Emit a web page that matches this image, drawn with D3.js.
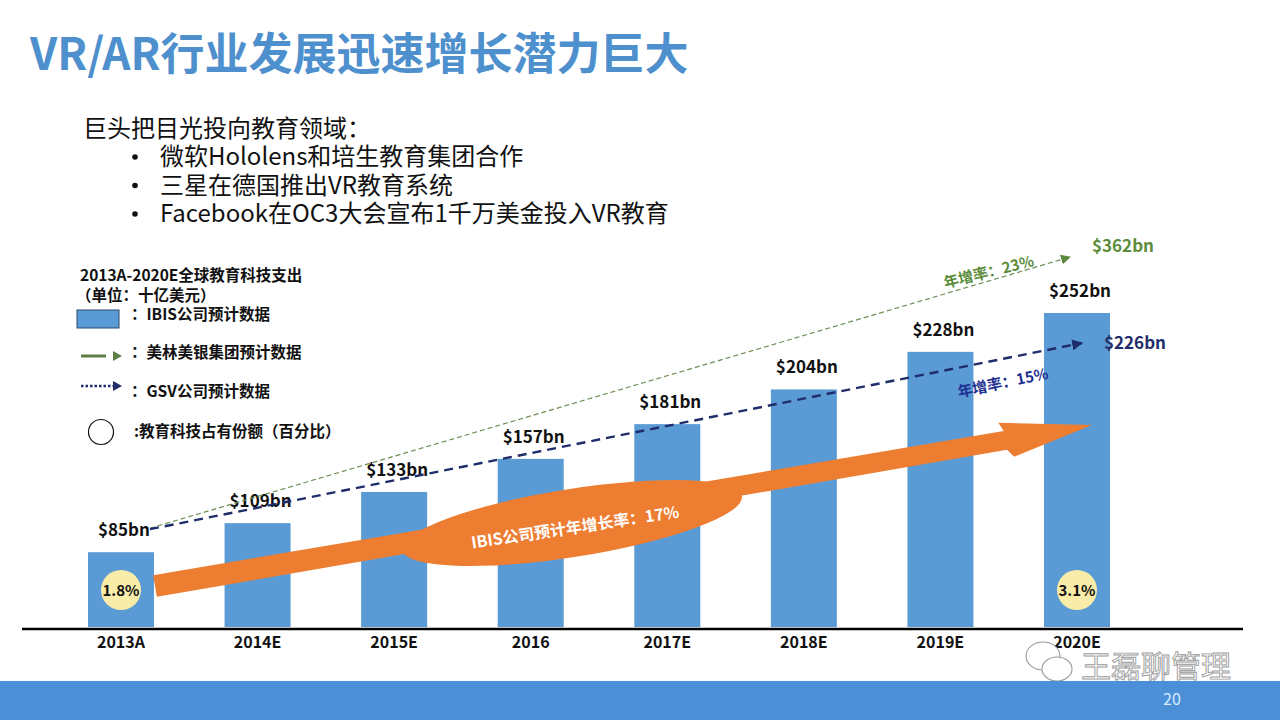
<!DOCTYPE html>
<html lang="zh-CN">
<head>
<meta charset="UTF-8">
<script src="https://cdn.jsdelivr.net/npm/d3@7/dist/d3.min.js"></script>
<title>VR/AR</title>
<style>
  body { margin: 0; background: #fff; }
  svg { display: block; font-family: "Noto Sans CJK SC", "Noto Sans", sans-serif; }
</style>
</head>
<body>
<script>
// data
var categories = ["2013A", "2014E", "2015E", "2016", "2017E", "2018E", "2019E", "2020E"];
var ibisValues = [85, 109, 133, 157, 181, 204, 228, 252];
var valueLabels = ["$85bn", "$109bn", "$133bn", "$157bn", "$181bn", "$204bn", "$228bn", "$252bn"];
var shareCats = ["2013A", "2020E"];
var shareLabels = ["1.8%", "3.1%"];
var bullets = ["微软Hololens和培生教育集团合作", "三星在德国推出VR教育系统", "Facebook在OC3大会宣布1千万美金投入VR教育"];

var width = 1280, height = 720;
var svg = d3.select("body").append("svg").attr("width", width).attr("height", height);

var baseY = 627, barW = 66;
var x = d3.scalePoint().domain(categories).range([121, 1077]);
// bar heights in the slide grow faster than linear
var y = d3.scalePow().exponent(1.32).domain([0, 252]).range([baseY, 313]);

// title
svg.append("text").attr("x", 30).attr("y", 70)
    .attr("font-size", 44).attr("font-weight", "bold").attr("fill", "#4e8fcd")
    .text("VR/AR行业发展迅速增长潜力巨大");

svg.append("text").attr("x", 83).attr("y", 137)
    .attr("font-size", 24).attr("fill", "#111").text("巨头把目光投向教育领域：");
bullets.forEach(function(b, i){
    var yy = 165 + i * 28.5;
    svg.append("circle").attr("cx", 135).attr("cy", yy - 8).attr("r", 2.8).attr("fill", "#111");
    svg.append("text").attr("x", 160).attr("y", yy)
        .attr("font-size", 24).attr("fill", "#111").text(b);
});

// bars
svg.selectAll("rect.bar").data(ibisValues).enter().append("rect")
    .attr("class", "bar")
    .attr("x", function(d, i){ return x(categories[i]) - barW / 2; })
    .attr("y", function(d){ return y(d); })
    .attr("width", barW)
    .attr("height", function(d){ return baseY - y(d); })
    .attr("fill", "#5b9bd5");

// axis line
svg.append("line").attr("x1", 22).attr("x2", 1243).attr("y1", 629).attr("y2", 629)
    .attr("stroke", "#000").attr("stroke-width", 2.5);

svg.selectAll("text.cat").data(categories).enter().append("text")
    .attr("class", "cat")
    .attr("x", function(d){ return x(d); })
    .attr("y", 648)
    .attr("text-anchor", "middle")
    .attr("font-size", 16).attr("font-weight", "bold").attr("fill", "#111")
    .text(function(d){ return d; });

svg.selectAll("text.val").data(ibisValues).enter().append("text")
    .attr("class", "val")
    .attr("x", function(d, i){ return x(categories[i]) + 3; })
    .attr("y", function(d){ return y(d) - 16; })
    .attr("text-anchor", "middle")
    .attr("font-size", 17).attr("font-weight", "bold").attr("fill", "#111")
    .text(function(d, i){ return valueLabels[i]; });

// arrow markers
var defs = svg.append("defs");
function marker(id, color, size){
    defs.append("marker").attr("id", id)
        .attr("viewBox", "0 0 10 10").attr("refX", 9).attr("refY", 5)
        .attr("markerWidth", size).attr("markerHeight", size)
        .attr("markerUnits", "userSpaceOnUse")
        .attr("orient", "auto")
        .append("path").attr("d", "M0,0L10,5L0,10Z").attr("fill", color);
}
marker("mGreen", "#5d8a3c", 10);
marker("mNavy", "#1f2d6a", 11);

var startX = x("2013A") + 29, startY = y(85) - 24;
var lastX = x("2020E");

// green (Merrill Lynch) forecast line
svg.append("line").attr("x1", startX).attr("y1", startY)
    .attr("x2", lastX - 7).attr("y2", y(252) - 56)
    .attr("stroke", "#6d8f55").attr("stroke-width", 1.2).attr("stroke-dasharray", "5,3")
    .attr("marker-end", "url(#mGreen)");
svg.append("text").attr("transform", "translate(990,277) rotate(-14)")
    .attr("text-anchor", "middle").attr("font-size", 15).attr("font-weight", "bold")
    .attr("fill", "#5b8c3a").text("年增率：23%");
svg.append("text").attr("x", 1123).attr("y", 252).attr("text-anchor", "middle")
    .attr("font-size", 17).attr("font-weight", "bold").attr("fill", "#5b8c3a").text("$362bn");

// navy (GSV) forecast line
svg.append("line").attr("x1", startX).attr("y1", startY + 1)
    .attr("x2", lastX + 5).attr("y2", y(226) - 12)
    .attr("stroke", "#1f2d6a").attr("stroke-width", 2.4).attr("stroke-dasharray", "9,6")
    .attr("marker-end", "url(#mNavy)");
svg.append("text").attr("transform", "translate(1004,388) rotate(-12)")
    .attr("text-anchor", "middle").attr("font-size", 15).attr("font-weight", "bold")
    .attr("fill", "#1f3190").text("年增率：15%");
svg.append("text").attr("x", 1135).attr("y", 349).attr("text-anchor", "middle")
    .attr("font-size", 17).attr("font-weight", "bold").attr("fill", "#1f2d6a").text("$226bn");

// orange IBIS growth arrow
var ax0 = x("2013A") + barW / 2 + 1, ay0 = 586;
var ax1 = lastX + 15, ay1 = 425;
var len = Math.hypot(ax1 - ax0, ay1 - ay0);
var ang = Math.atan2(ay1 - ay0, ax1 - ax0) * 180 / Math.PI;
var headL = 88, headH = 15;
var arrowPts = [[0, -11], [len - headL, -9], [len - headL - 4, -headH - 3],
                [len, 0], [len - headL + 6, headH + 3], [len - headL, 10], [0, 11]];
svg.append("path")
    .attr("transform", "translate(" + ax0 + "," + ay0 + ") rotate(" + ang + ")")
    .attr("d", d3.line()(arrowPts) + "Z")
    .attr("fill", "#ed7d31");

svg.append("ellipse").attr("transform", "translate(572,523) rotate(-9)")
    .attr("rx", 172).attr("ry", 34).attr("fill", "#ed7d31");
svg.append("text").attr("transform", "translate(576,533) rotate(-8.5)")
    .attr("text-anchor", "middle").attr("font-size", 16).attr("font-weight", "bold")
    .attr("fill", "#fff").text("IBIS公司预计年增长率：17%");

// share circles
shareCats.forEach(function(c, i){
    svg.append("circle").attr("cx", x(c)).attr("cy", 590).attr("r", 20).attr("fill", "#f9eca8");
    svg.append("text").attr("x", x(c)).attr("y", 596).attr("text-anchor", "middle")
        .attr("font-size", 15).attr("font-weight", "bold").attr("fill", "#111").text(shareLabels[i]);
});

// legend
var lg = svg.append("g").attr("font-size", 15.5).attr("font-weight", "bold").attr("fill", "#111");
lg.append("text").attr("x", 80).attr("y", 281).text("2013A-2020E全球教育科技支出");
lg.append("text").attr("x", 76).attr("y", 301).text("（单位：十亿美元）");
lg.append("rect").attr("x", 77).attr("y", 310).attr("width", 42).attr("height", 18)
    .attr("fill", "#5b9bd5").attr("stroke", "#2a4a6e").attr("stroke-width", 1);
lg.append("text").attr("x", 131).attr("y", 320).text("：IBIS公司预计数据");
lg.append("line").attr("x1", 81).attr("x2", 106).attr("y1", 356).attr("y2", 356)
    .attr("stroke", "#5d7f45").attr("stroke-width", 3);
lg.append("path").attr("d", "M113,351L122,356L113,361Z").attr("fill", "#5d7f45");
lg.append("text").attr("x", 131).attr("y", 358).text("：美林美银集团预计数据");
lg.append("line").attr("x1", 81).attr("x2", 114).attr("y1", 386).attr("y2", 386)
    .attr("stroke", "#1f2d6a").attr("stroke-width", 2.5).attr("stroke-dasharray", "2.5,2");
lg.append("path").attr("d", "M113,381L122,386L113,391Z").attr("fill", "#1f2d6a");
lg.append("text").attr("x", 131).attr("y", 397).text("：GSV公司预计数据");
lg.append("circle").attr("cx", 101).attr("cy", 432).attr("r", 12.5)
    .attr("fill", "#fff").attr("stroke", "#111").attr("stroke-width", 1.2);
lg.append("text").attr("x", 134).attr("y", 437).text(":教育科技占有份额（百分比）");

// watermark
var wm = svg.append("g").attr("fill", "#fff").attr("stroke", "#9a9a9a").attr("stroke-width", 1.1);
wm.append("ellipse").attr("cx", 1043).attr("cy", 656).attr("rx", 17).attr("ry", 14);
wm.append("ellipse").attr("cx", 1057).attr("cy", 669).attr("rx", 15).attr("ry", 12);
wm.append("text").attr("x", 1081).attr("y", 677).attr("font-size", 30)
    .attr("stroke-width", 0.9).text("王磊聊管理");

// footer band
svg.append("rect").attr("x", 0).attr("y", 681).attr("width", width).attr("height", 39).attr("fill", "#4b90d7");
svg.append("text").attr("x", 1172).attr("y", 705).attr("text-anchor", "middle")
    .attr("font-size", 16).attr("fill", "#d6ebff").text("20");
</script>
</body>
</html>
